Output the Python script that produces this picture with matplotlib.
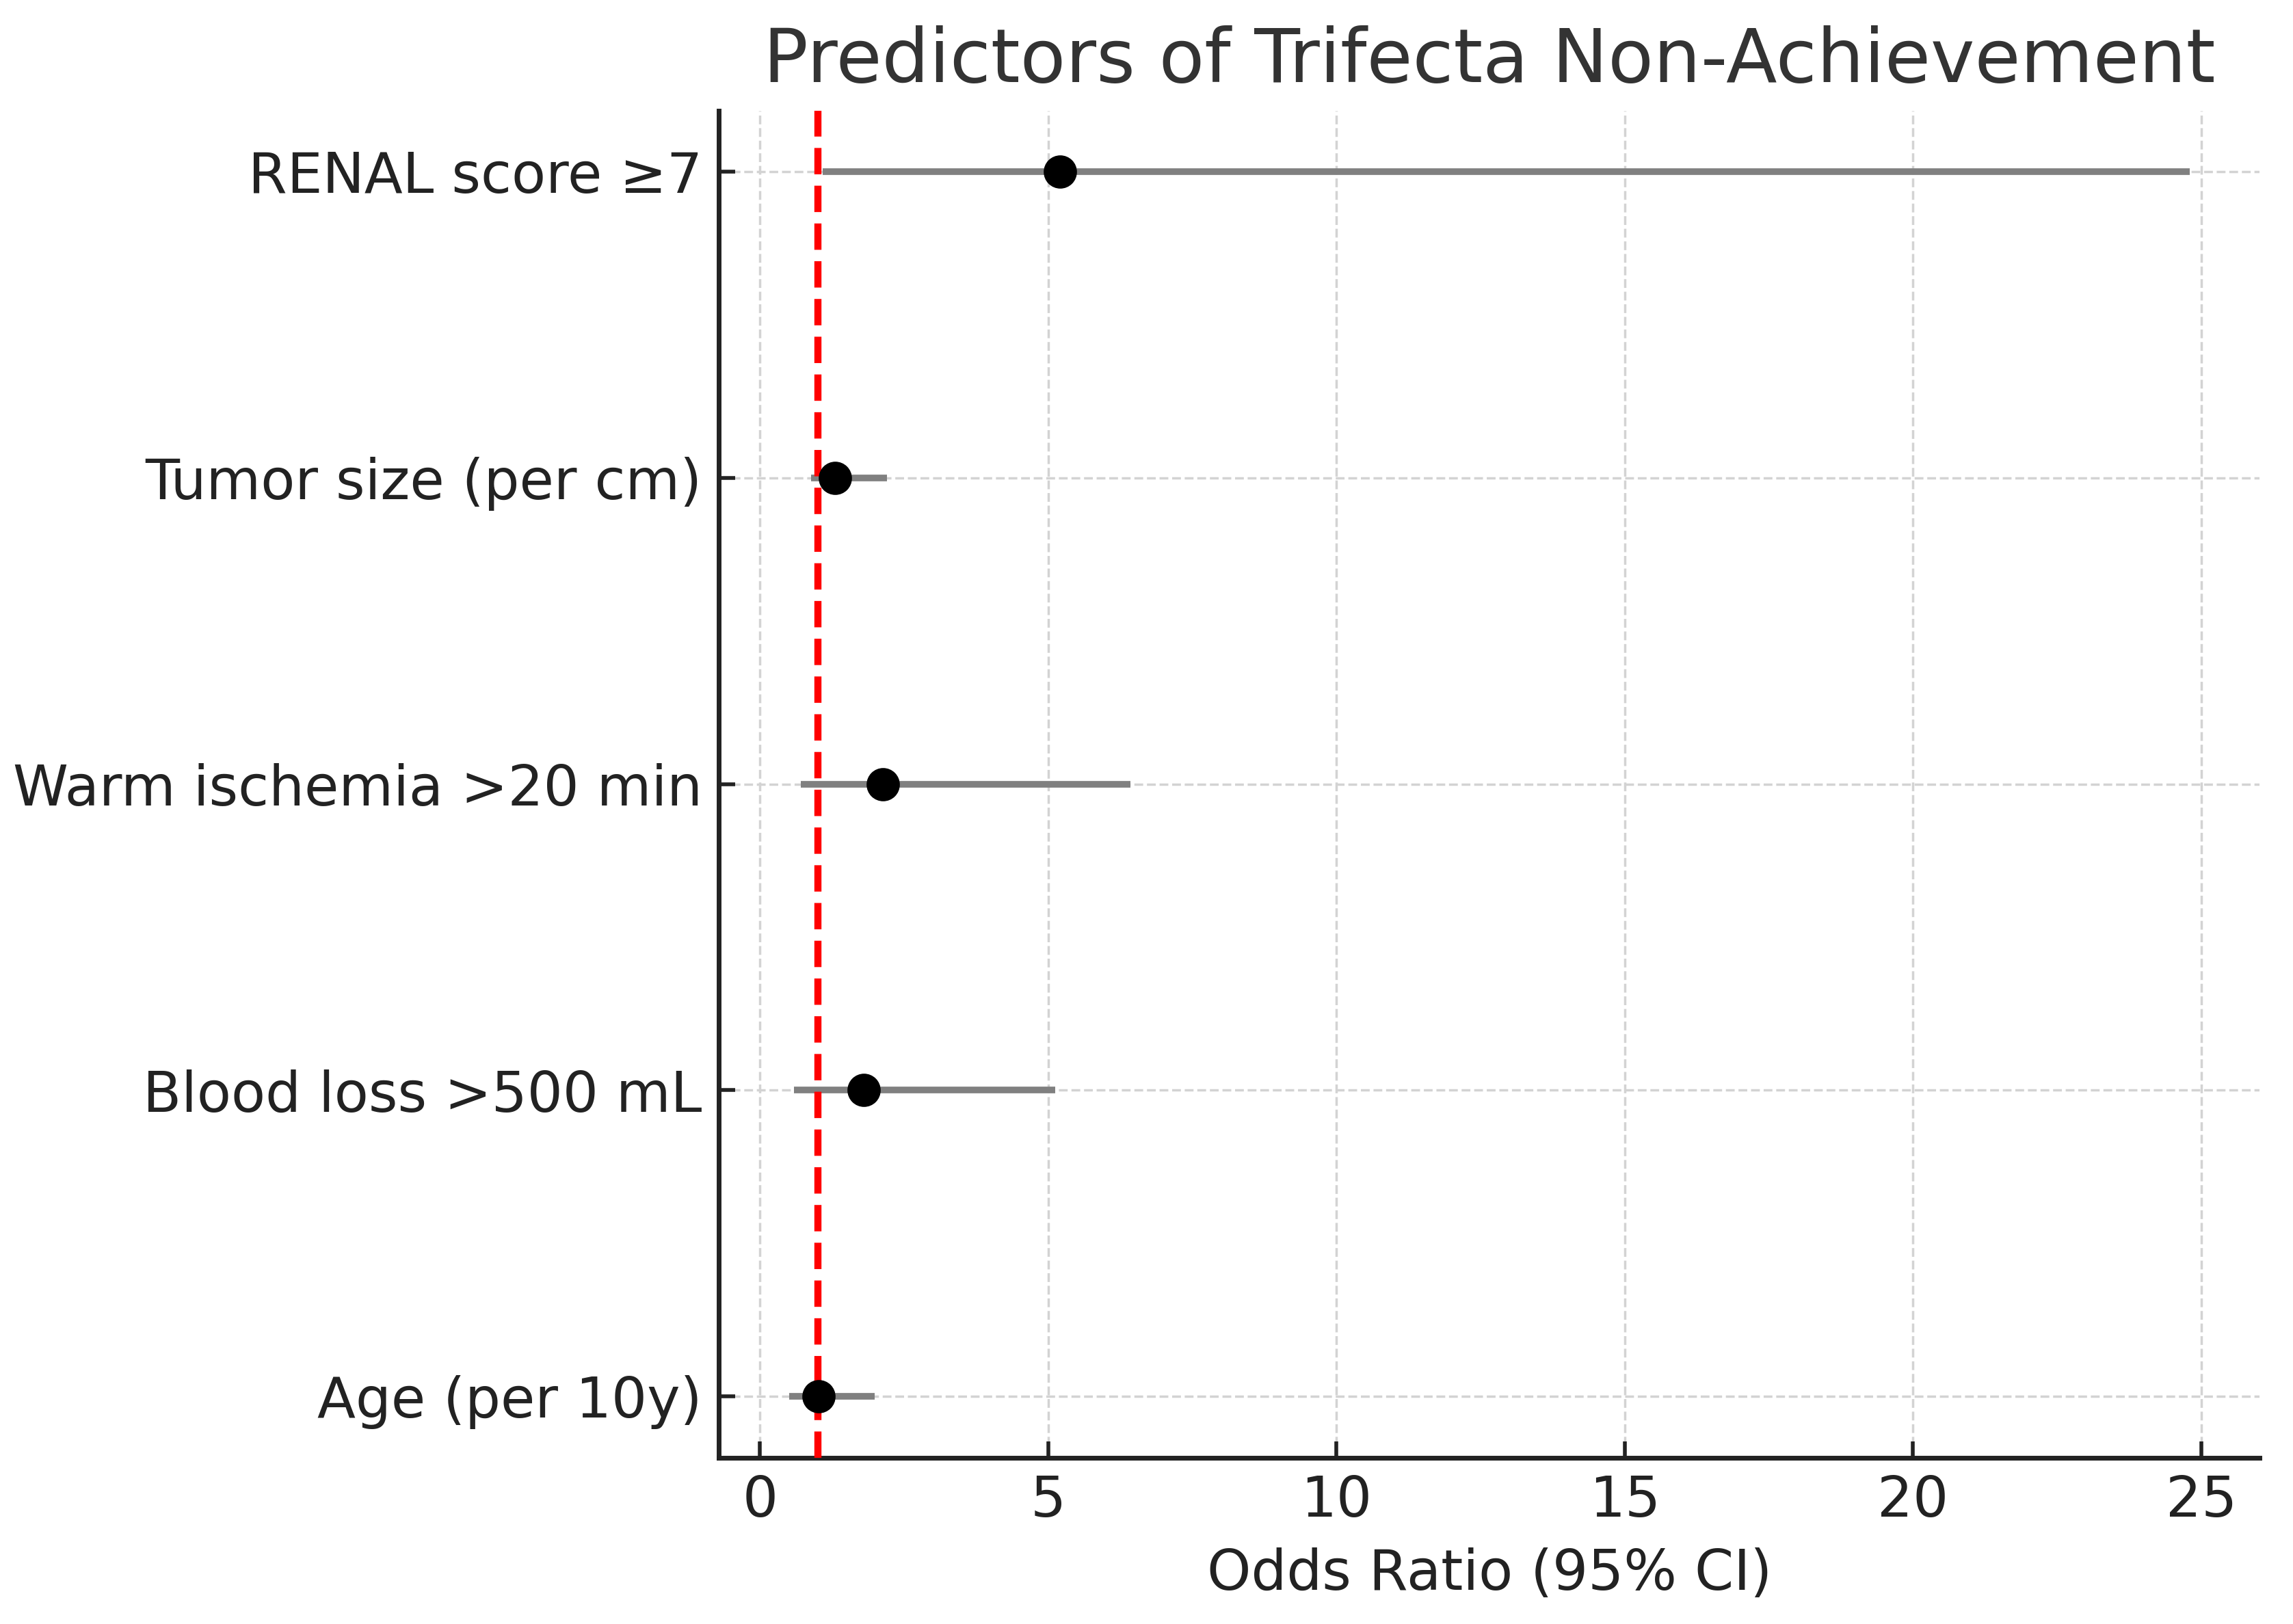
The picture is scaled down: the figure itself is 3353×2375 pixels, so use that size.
import matplotlib.pyplot as plt

# predictors listed bottom to top
labels = ['Age (per 10y)', 'Blood loss >500 mL', 'Warm ischemia >20 min',
          'Tumor size (per cm)', 'RENAL score \u22657']
odds = [1.01, 1.80, 2.13, 1.30, 5.20]
lower = [0.50, 0.59, 0.71, 0.88, 1.09]
upper = [1.99, 5.12, 6.43, 2.20, 24.8]

ypos = list(range(len(labels)))

fig = plt.figure(figsize=(3353 / 500, 2375 / 500), dpi=500)
ax = fig.add_axes([0.3135, 0.1025, 0.672, 0.8295])

ax.hlines(ypos, lower, upper, color='gray', linewidth=1.4, zorder=2)
ax.axvline(1, color='red', linestyle='--', linewidth=1.5, zorder=3)
ax.plot(odds, ypos, 'o', color='black', markersize=6, zorder=4)

ax.set_yticks(ypos)
ax.set_yticklabels(labels)
ax.set_xlabel('Odds Ratio (95% CI)', fontsize=11.8, color='#222222')
ax.set_title('Predictors of Trifecta Non-Achievement', fontsize=15.7, color='#333333')

ax.grid(True, linestyle='--', linewidth=0.5, color='lightgray', zorder=0)
ax.set_axisbelow(True)
ax.tick_params(direction='in', labelsize=11.8, colors='#222222', length=3.5)
ax.spines['top'].set_visible(False)
ax.spines['right'].set_visible(False)
for s in ['left', 'bottom']:
    ax.spines[s].set_linewidth(1.0)
    ax.spines[s].set_color('#222222')

fig.savefig('out.png', dpi=500)
